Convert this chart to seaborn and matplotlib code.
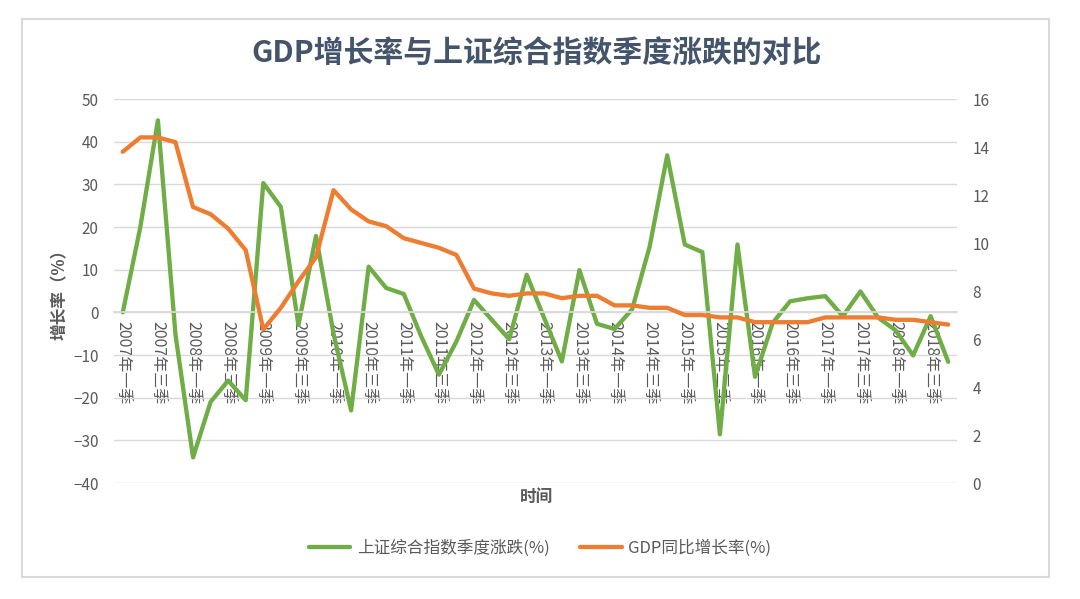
import numpy as np
import pandas as pd
import matplotlib
matplotlib.use('Agg')
import matplotlib.pyplot as plt
import seaborn as sns
from matplotlib.patches import Rectangle

# quarterly data, 2007 Q1 - 2018 Q4
years = [y for y in range(2007, 2019) for _ in range(4)]
quarters = ['一', '二', '三', '四'] * 12

# 上证综合指数季度涨跌 (%), left axis
index_change = [0, 20, 45, -5.2, -34, -21, -16, -20.6,
                30.3, 24.7, -3, 17.9, -5, -23, 10.7, 5.7,
                4.3, -5.7, -14.6, -6.8, 2.9, -1.7, -6.3, 8.8,
                -1.4, -11.5, 9.9, -2.7, -3.9, 0.7, 15.4, 36.8,
                15.9, 14.1, -28.6, 15.9, -15.1, -2.5, 2.6, 3.3,
                3.8, -0.9, 4.9, -1.2, -4.2, -10.1, -0.9, -11.6]

# GDP同比增长率 (%), right axis
gdp_growth = [13.8, 14.4, 14.4, 14.2, 11.5, 11.2, 10.6, 9.7,
              6.4, 7.3, 8.4, 9.4, 12.2, 11.4, 10.9, 10.7,
              10.2, 10.0, 9.8, 9.5, 8.1, 7.9, 7.8, 7.9,
              7.9, 7.7, 7.8, 7.8, 7.4, 7.4, 7.3, 7.3,
              7.0, 7.0, 6.9, 6.9, 6.7, 6.7, 6.7, 6.7,
              6.9, 6.9, 6.9, 6.9, 6.8, 6.8, 6.7, 6.6]

left_ticks = list(range(-40, 51, 10))
right_ticks = list(range(0, 17, 2))

labels = [f'{y}年{q}季' for y, q in zip(years, quarters)]
df = pd.DataFrame({'idx': range(len(labels)),
                   'index_change': index_change,
                   'gdp': gdp_growth})

sns.set_theme(style='white')
plt.rcParams['font.family'] = ['Noto Sans CJK SC', 'DejaVu Sans']

green = '#70AD47'
orange = '#ED7D31'
grid_c = '#D9D9D9'
text_c = '#595959'

fig = plt.figure(figsize=(10.8, 5.99), dpi=100)
W, H = 1080, 599
ax = fig.add_axes([114 / W, 1 - 483 / H, (957 - 114) / W, (483 - 99) / H])
ax2 = ax.twinx()

sns.lineplot(data=df, x='idx', y='index_change', color=green, lw=3.1,
             ax=ax, label='上证综合指数季度涨跌(%)')
sns.lineplot(data=df, x='idx', y='gdp', color=orange, lw=3.1,
             ax=ax2, label='GDP同比增长率(%)')

ax.set_xlim(-0.5, len(labels) - 0.5)
ax.set_ylim(-40, 50)
ax2.set_ylim(0, 16)
ax.set_yticks(left_ticks)
ax2.set_yticks(right_ticks)
ax.set_xticks(range(0, len(labels), 2))
ax.set_xticklabels(labels[::2])

ax.yaxis.grid(True, color=grid_c, lw=1)
ax.xaxis.grid(False)
for s in ['left', 'right', 'top']:
    ax.spines[s].set_visible(False)
for s in ax2.spines.values():
    s.set_visible(False)
ax.spines['bottom'].set_position(('data', 0))
ax.spines['bottom'].set_color(grid_c)

ax.tick_params(axis='y', length=0, pad=11, labelsize=11, labelcolor=text_c)
ax.tick_params(axis='x', length=0, pad=6, labelsize=11.5, labelcolor=text_c,
               labelrotation=-90)
ax2.tick_params(axis='y', length=0, pad=11, labelsize=11, labelcolor=text_c)

ax.set_xlabel('')
ax.set_ylabel('')
ax2.set_ylabel('')

fig.text(0.497, 1 - 53 / H, 'GDP增长率与上证综合指数季度涨跌的对比',
         ha='center', va='center', fontsize=21.5, fontweight='bold', color='#44546A')
fig.text(0.497, 1 - 497 / H, '时间', ha='center', va='center',
         fontsize=12, fontweight='bold', color=text_c)
fig.text(60 / W, 1 - 290 / H, '增长率（%）', ha='center', va='center',
         rotation=90, fontsize=12, fontweight='bold', color=text_c)

h1, l1 = ax.get_legend_handles_labels()
h2, l2 = ax2.get_legend_handles_labels()
ax.get_legend().remove()
ax2.get_legend().remove()
fig.legend(h1 + h2, l1 + l2, loc='center', bbox_to_anchor=(0.5, 1 - 548 / H),
           ncol=2, frameon=False, fontsize=12, handlelength=2.5,
           handletextpad=0.4, columnspacing=1.8, labelcolor=text_c)

fig.patches.append(Rectangle((22 / W, 1 - 577 / H), (1049 - 22) / W, (577 - 19) / H,
                             transform=fig.transFigure, fill=False,
                             edgecolor=grid_c, lw=1.5))

fig.savefig('out.png', dpi=100)
